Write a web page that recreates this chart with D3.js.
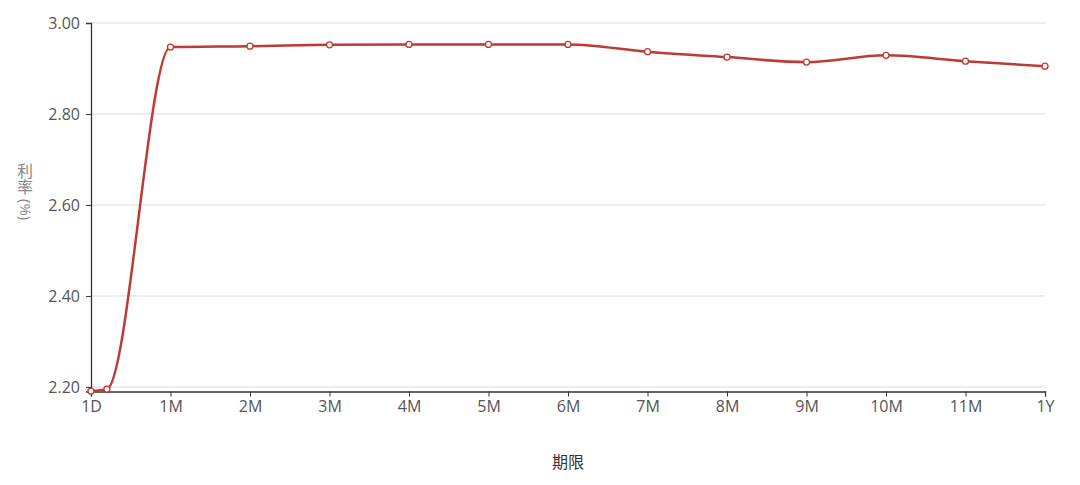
<!DOCTYPE html>
<html><head><meta charset="utf-8">
<script src="https://cdn.jsdelivr.net/npm/d3@7"></script>
<style>
html,body{margin:0;padding:0;background:#fff;}
svg{display:block;}
</style></head>
<body>
<svg id="chart" width="1080" height="485"></svg>
<script>
const termLabels = ["1D","1W","1M","2M","3M","4M","5M","6M","7M","8M","9M","10M","11M","1Y"];
const termDays = [1,7,31,61,91,121,151,181,211,241,271,301,331,361];
const rates = [2.191,2.195,2.947,2.949,2.952,2.953,2.953,2.953,2.937,2.925,2.914,2.929,2.916,2.905];
const xTickDays = [1,31,61,91,121,151,181,211,241,271,301,331,361];
const xTickLabels = ["1D","1M","2M","3M","4M","5M","6M","7M","8M","9M","10M","11M","1Y"];
const yTicks = [2.20,2.40,2.60,2.80,3.00];
const xName = "期限";
const yNameMain = "利率";
const yNameUnit = "(%)";

const svg = d3.select("#chart");
const x = d3.scaleLinear().domain([1,361]).range([91,1045]);
const y = d3.scaleLinear().domain([2.19,3.00]).range([391.5,23]);
const FONT = '"Open Sans","Noto Sans CJK SC",sans-serif';
const CJK = '"Noto Sans CJK SC",sans-serif';

// grid
svg.append("g").selectAll("line").data(yTicks).join("line")
  .attr("x1",x(1)).attr("x2",x(361))
  .attr("y1",d=>y(d)).attr("y2",d=>y(d))
  .attr("stroke","#dcdcdc").attr("stroke-width",1);

// y axis
const yAxis = svg.append("g").attr("transform",`translate(${x(1)},0)`)
  .call(d3.axisLeft(y).tickValues(yTicks).tickFormat(d3.format(".2f")).tickSize(5).tickPadding(6));
yAxis.select(".domain").attr("stroke","#333").attr("stroke-width",1.3);
yAxis.selectAll(".tick line").attr("stroke","#333");
yAxis.selectAll(".tick text").attr("fill","#555").style("font-size","16px").style("font-family",FONT);

// x axis
const xAxis = svg.append("g").attr("transform",`translate(0,${y(2.19)})`)
  .call(d3.axisBottom(x).tickValues(xTickDays).tickFormat((d,i)=>xTickLabels[i]).tickSize(5).tickPadding(4));
xAxis.select(".domain").attr("stroke","#333").attr("stroke-width",1.3);
xAxis.selectAll(".tick line").attr("stroke","#333");
xAxis.selectAll(".tick text").attr("fill","#555").style("font-size","16px").style("font-family",FONT);

// line
const data = termDays.map((d,i)=>({d, v:rates[i], label:termLabels[i]}));
const line = d3.line().x(p=>x(p.d)).y(p=>y(p.v)).curve(d3.curveMonotoneX);
svg.append("path").datum(data).attr("d",line)
  .attr("fill","none").attr("stroke","#bd3a36").attr("stroke-width",2.5);
svg.append("g").selectAll("circle").data(data).join("circle")
  .attr("cx",p=>x(p.d)).attr("cy",p=>y(p.v)).attr("r",3)
  .attr("fill","#fff").attr("stroke","#bd3a36").attr("stroke-width",1.3);

// axis names
svg.append("text").attr("x",568).attr("y",468).attr("text-anchor","middle")
  .attr("fill","#333").style("font-size","16px").style("font-family",CJK).text(xName);

svg.append("text").attr("x",25).attr("y",163).attr("text-anchor","start")
  .style("writing-mode","vertical-rl").attr("fill","#888")
  .style("font-size","16px").style("font-family",CJK).text(yNameMain);
svg.append("text").attr("transform","translate(25,199) rotate(90)")
  .attr("text-anchor","start").attr("dy","0.35em").attr("fill","#888")
  .style("font-size","15px").style("font-family",FONT).text(yNameUnit);
</script>
</body></html>
